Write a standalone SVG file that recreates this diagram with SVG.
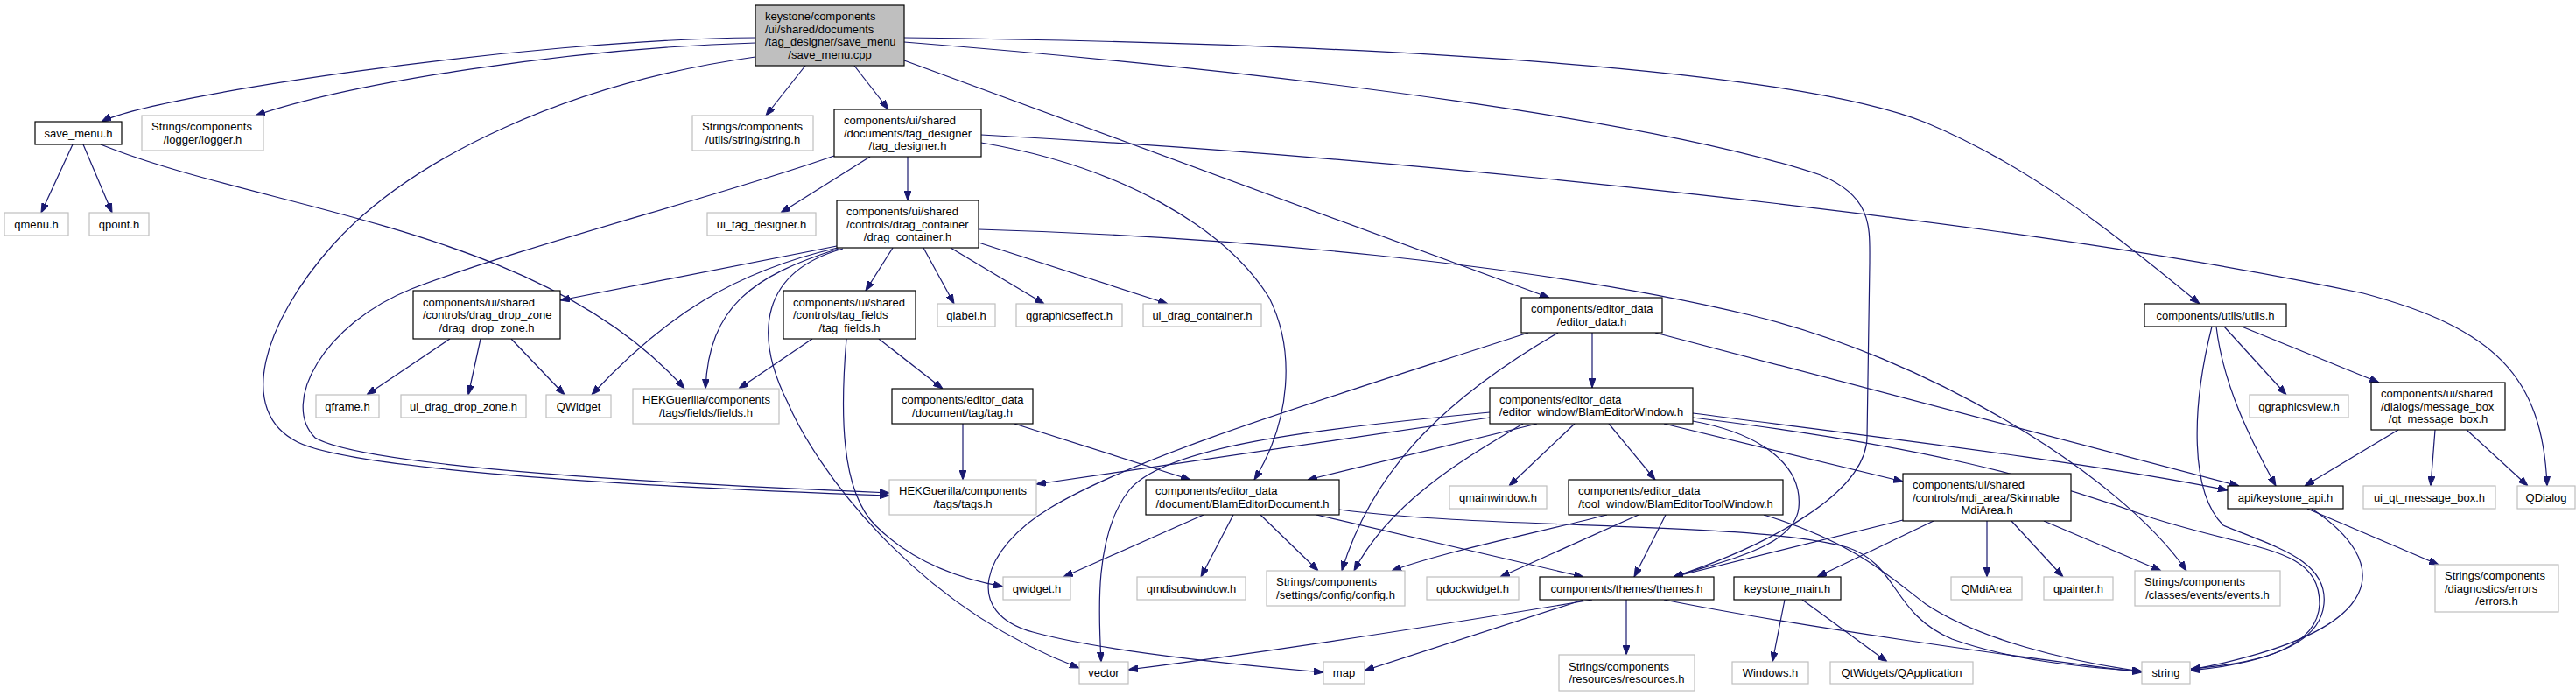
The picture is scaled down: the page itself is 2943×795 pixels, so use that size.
<svg xmlns="http://www.w3.org/2000/svg" width="2943" height="795" viewBox="0 0 2943 795">
<style>
.doc{fill:#fff;stroke:#000;stroke-width:1.2}
.ext{fill:#fff;stroke:#bfbfbf;stroke-width:1.2}
.main{fill:#bfbfbf;stroke:#000;stroke-width:1.2}
text{font-family:"Liberation Sans",Arial,sans-serif;font-size:13px;fill:#000}
.c{text-anchor:middle}
#edges path{fill:none;stroke:#191970;stroke-width:1.2;marker-end:url(#ah)}
</style>
<defs>
<marker id="ah" viewBox="0 0 11 8" refX="11" refY="4" markerWidth="11" markerHeight="8" markerUnits="userSpaceOnUse" orient="auto"><path d="M0,0L11,4L0,8z" fill="#191970" stroke="#191970" stroke-width="1"/></marker>
</defs>
<rect x="0" y="0" width="2943" height="795" fill="#fff"/>
<g id="edges">
<path d="M863,43 C600,45 170,110 116,139"/>
<path d="M863,49 C650,55 400,95 292,132"/>
<path d="M863,65 C650,95 470,180 380,280 C300,370 270,470 340,505 C400,535 700,555 1016,566"/>
<path d="M953,178 C820,225 600,280 470,330 C370,370 320,460 360,500 C410,530 700,550 1016,563"/>
<path d="M920,75 L875,132"/>
<path d="M976,75 L1015,125"/>
<path d="M1033,69 L1770,340"/>
<path d="M1033,43 C1600,50 2050,80 2200,140 C2320,190 2420,270 2513,347"/>
<path d="M1033,48 C1500,85 1900,140 2080,200 C2140,225 2136,260 2136,300 L2133,500 C2131,570 2000,630 1912,659"/>
<path d="M83,165 L47,243"/>
<path d="M95,165 L128,243"/>
<path d="M115,165 C300,240 620,260 782,444"/>
<path d="M994,179 L892,243"/>
<path d="M1037,179 L1037,229"/>
<path d="M1121,163 C1280,190 1400,260 1450,340 C1480,400 1475,480 1433,548"/>
<path d="M1121,154 C1600,180 2300,250 2700,335 C2850,375 2905,430 2910,555"/>
<path d="M956,281 L640,343"/>
<path d="M957,283 C840,310 760,360 676,451"/>
<path d="M958,284 C860,315 810,350 806,444"/>
<path d="M963,284 C870,310 860,380 900,460 C930,530 1040,690 1233,763"/>
<path d="M1020,283 L989,332"/>
<path d="M1055,283 L1090,347"/>
<path d="M1086,283 L1193,347"/>
<path d="M1118,277 L1334,347"/>
<path d="M1118,262 C1400,270 1750,300 2000,360 C2200,408 2420,540 2498,652"/>
<path d="M514,387 L419,451"/>
<path d="M549,387 L535,451"/>
<path d="M584,387 L645,451"/>
<path d="M928,387 L844,444"/>
<path d="M967,387 C960,470 960,560 1000,600 C1040,640 1090,660 1146,670"/>
<path d="M1004,387 L1077,444"/>
<path d="M1100,484 L1100,548"/>
<path d="M1159,484 L1360,548"/>
<path d="M1819,380 L1819,443"/>
<path d="M1891,380 L2558,555"/>
<path d="M1780,380 C1660,450 1570,530 1533,652"/>
<path d="M1746,380 C1500,460 1300,520 1200,580 C1120,628 1100,700 1180,722 C1260,744 1420,760 1512,768"/>
<path d="M1702,477 L1184,553"/>
<path d="M1756,484 L1494,548"/>
<path d="M1740,484 C1680,520 1590,570 1547,652"/>
<path d="M1799,484 L1724,555"/>
<path d="M1838,484 L1891,548"/>
<path d="M1901,484 L2174,550"/>
<path d="M1934,481 C2010,495 2060,530 2055,580 C2050,625 1970,640 1912,659"/>
<path d="M1934,472 C2150,500 2400,530 2545,560"/>
<path d="M1934,477 C2200,510 2330,545 2460,592 C2580,630 2650,625 2650,690 C2648,740 2580,758 2503,766"/>
<path d="M1702,471 C1500,490 1330,510 1290,560 C1250,610 1255,700 1258,756"/>
<path d="M2541,373 L2612,451"/>
<path d="M2561,373 L2718,437"/>
<path d="M2532,373 C2540,440 2570,500 2600,555"/>
<path d="M2527,373 C2505,460 2500,560 2540,600 C2600,625 2660,640 2655,690 C2650,740 2580,758 2503,764"/>
<path d="M2740,491 L2633,555"/>
<path d="M2782,491 L2777,555"/>
<path d="M2818,491 L2888,555"/>
<path d="M2636,581 L2786,645"/>
<path d="M2641,581 C2730,640 2740,720 2503,765"/>
<path d="M2174,594 L1912,659"/>
<path d="M2209,595 L2076,659"/>
<path d="M2270,595 L2270,659"/>
<path d="M2298,595 L2357,659"/>
<path d="M2335,595 L2469,652"/>
<path d="M1375,588 L1215,659"/>
<path d="M1409,588 L1372,659"/>
<path d="M1440,588 L1506,652"/>
<path d="M1504,588 L1809,659"/>
<path d="M1530,582 C1700,605 2000,595 2110,625 C2170,645 2160,700 2230,730 C2300,755 2380,762 2447,767"/>
<path d="M1836,588 C1750,610 1650,630 1590,652"/>
<path d="M1872,588 L1714,659"/>
<path d="M1903,588 L1867,659"/>
<path d="M2015,588 C2120,620 2160,660 2200,690 C2260,730 2360,755 2447,767"/>
<path d="M1819,685 C1700,705 1500,738 1289,765"/>
<path d="M1809,685 L1559,766"/>
<path d="M1858,685 L1858,748"/>
<path d="M1901,685 C2050,715 2300,750 2447,768"/>
<path d="M2039,685 L2025,756"/>
<path d="M2059,685 L2156,756"/>
</g>
<g id="n_main"><rect class="main" x="863" y="6" width="170" height="69"/><text><tspan x="874" y="23">keystone/components</tspan><tspan x="874" y="37.5">/ui/shared/documents</tspan><tspan x="874" y="52">/tag_designer/save_menu</tspan><tspan class="c" x="948" y="66.5">/save_menu.cpp</tspan></text></g>
<g id="n_save_menu"><rect class="doc" x="40" y="139" width="99" height="26"/><text class="c" x="89.5" y="156.5">save_menu.h</text></g>
<g id="n_logger"><rect class="ext" x="162" y="132" width="139" height="40"/><text><tspan x="173" y="149.25">Strings/components</tspan><tspan class="c" x="231.5" y="163.75">/logger/logger.h</tspan></text></g>
<g id="n_stringh"><rect class="ext" x="791" y="132" width="138" height="40"/><text><tspan x="802" y="149.25">Strings/components</tspan><tspan class="c" x="860" y="163.75">/utils/string/string.h</tspan></text></g>
<g id="n_tag_designer"><rect class="doc" x="953" y="125" width="168" height="54"/><text><tspan x="964" y="142">components/ui/shared</tspan><tspan x="964" y="156.5">/documents/tag_designer</tspan><tspan class="c" x="1037" y="171">/tag_designer.h</tspan></text></g>
<g id="n_qmenu"><rect class="ext" x="5" y="243" width="73" height="26"/><text class="c" x="41.5" y="260.5">qmenu.h</text></g>
<g id="n_qpoint"><rect class="ext" x="102" y="243" width="68" height="26"/><text class="c" x="136" y="260.5">qpoint.h</text></g>
<g id="n_ui_tag_designer"><rect class="ext" x="808" y="243" width="124" height="26"/><text class="c" x="870" y="260.5">ui_tag_designer.h</text></g>
<g id="n_drag_container"><rect class="doc" x="956" y="229" width="162" height="54"/><text><tspan x="967" y="246">components/ui/shared</tspan><tspan x="967" y="260.5">/controls/drag_container</tspan><tspan class="c" x="1037" y="275">/drag_container.h</tspan></text></g>
<g id="n_drag_drop_zone"><rect class="doc" x="472" y="332" width="168" height="55"/><text><tspan x="483" y="349.5">components/ui/shared</tspan><tspan x="483" y="364">/controls/drag_drop_zone</tspan><tspan class="c" x="556" y="378.5">/drag_drop_zone.h</tspan></text></g>
<g id="n_tag_fields"><rect class="doc" x="895" y="332" width="151" height="55"/><text><tspan x="906" y="349.5">components/ui/shared</tspan><tspan x="906" y="364">/controls/tag_fields</tspan><tspan class="c" x="970.5" y="378.5">/tag_fields.h</tspan></text></g>
<g id="n_qlabel"><rect class="ext" x="1071" y="347" width="66" height="26"/><text class="c" x="1104" y="364.5">qlabel.h</text></g>
<g id="n_qgraphicseffect"><rect class="ext" x="1161" y="347" width="121" height="26"/><text class="c" x="1221.5" y="364.5">qgraphicseffect.h</text></g>
<g id="n_ui_drag_container"><rect class="ext" x="1306" y="347" width="135" height="26"/><text class="c" x="1373.5" y="364.5">ui_drag_container.h</text></g>
<g id="n_editor_data"><rect class="doc" x="1738" y="340" width="161" height="40"/><text><tspan x="1749" y="357.25">components/editor_data</tspan><tspan class="c" x="1818.5" y="371.75">/editor_data.h</tspan></text></g>
<g id="n_utils"><rect class="doc" x="2450" y="347" width="162" height="26"/><text class="c" x="2531" y="364.5">components/utils/utils.h</text></g>
<g id="n_qframe"><rect class="ext" x="361" y="451" width="72" height="26"/><text class="c" x="397" y="468.5">qframe.h</text></g>
<g id="n_ui_drag_drop_zone"><rect class="ext" x="458" y="451" width="143" height="26"/><text class="c" x="529.5" y="468.5">ui_drag_drop_zone.h</text></g>
<g id="n_QWidget"><rect class="ext" x="624" y="451" width="74" height="26"/><text class="c" x="661" y="468.5">QWidget</text></g>
<g id="n_fields"><rect class="ext" x="723" y="444" width="167" height="40"/><text><tspan x="734" y="461.25">HEKGuerilla/components</tspan><tspan class="c" x="806.5" y="475.75">/tags/fields/fields.h</tspan></text></g>
<g id="n_tag"><rect class="doc" x="1019" y="444" width="161" height="40"/><text><tspan x="1030" y="461.25">components/editor_data</tspan><tspan class="c" x="1099.5" y="475.75">/document/tag/tag.h</tspan></text></g>
<g id="n_BlamEditorWindow"><rect class="doc" x="1702" y="443" width="232" height="41"/><text><tspan x="1713" y="460.75">components/editor_data</tspan><tspan class="c" x="1818" y="475.25">/editor_window/BlamEditorWindow.h</tspan></text></g>
<g id="n_qgraphicsview"><rect class="ext" x="2570" y="451" width="113" height="26"/><text class="c" x="2626.5" y="468.5">qgraphicsview.h</text></g>
<g id="n_qt_message_box"><rect class="doc" x="2709" y="437" width="153" height="54"/><text><tspan x="2720" y="454">components/ui/shared</tspan><tspan x="2720" y="468.5">/dialogs/message_box</tspan><tspan class="c" x="2785.5" y="483">/qt_message_box.h</tspan></text></g>
<g id="n_tags"><rect class="ext" x="1016" y="548" width="168" height="40"/><text><tspan x="1027" y="565.25">HEKGuerilla/components</tspan><tspan class="c" x="1100" y="579.75">/tags/tags.h</tspan></text></g>
<g id="n_BlamEditorDocument"><rect class="doc" x="1309" y="548" width="221" height="40"/><text><tspan x="1320" y="565.25">components/editor_data</tspan><tspan class="c" x="1419.5" y="579.75">/document/BlamEditorDocument.h</tspan></text></g>
<g id="n_qmainwindow"><rect class="ext" x="1656" y="555" width="111" height="26"/><text class="c" x="1711.5" y="572.5">qmainwindow.h</text></g>
<g id="n_BlamEditorToolWindow"><rect class="doc" x="1792" y="548" width="245" height="40"/><text><tspan x="1803" y="565.25">components/editor_data</tspan><tspan class="c" x="1914.5" y="579.75">/tool_window/BlamEditorToolWindow.h</tspan></text></g>
<g id="n_SkinnableMdiArea"><rect class="doc" x="2174" y="541" width="192" height="54"/><text><tspan x="2185" y="558">components/ui/shared</tspan><tspan x="2185" y="572.5">/controls/mdi_area/Skinnable</tspan><tspan class="c" x="2270" y="587">MdiArea.h</tspan></text></g>
<g id="n_keystone_api"><rect class="doc" x="2545" y="555" width="132" height="26"/><text class="c" x="2611" y="572.5">api/keystone_api.h</text></g>
<g id="n_ui_qt_message_box"><rect class="ext" x="2700" y="555" width="151" height="26"/><text class="c" x="2775.5" y="572.5">ui_qt_message_box.h</text></g>
<g id="n_QDialog"><rect class="ext" x="2876" y="555" width="66" height="26"/><text class="c" x="2909" y="572.5">QDialog</text></g>
<g id="n_qwidget"><rect class="ext" x="1146" y="659" width="77" height="26"/><text class="c" x="1184.5" y="676.5">qwidget.h</text></g>
<g id="n_qmdisubwindow"><rect class="ext" x="1299" y="659" width="124" height="26"/><text class="c" x="1361" y="676.5">qmdisubwindow.h</text></g>
<g id="n_config"><rect class="ext" x="1447" y="652" width="158" height="40"/><text><tspan x="1458" y="669.25">Strings/components</tspan><tspan class="c" x="1526" y="683.75">/settings/config/config.h</tspan></text></g>
<g id="n_qdockwidget"><rect class="ext" x="1630" y="659" width="105" height="26"/><text class="c" x="1682.5" y="676.5">qdockwidget.h</text></g>
<g id="n_themes"><rect class="doc" x="1759" y="659" width="199" height="26"/><text class="c" x="1858.5" y="676.5">components/themes/themes.h</text></g>
<g id="n_keystone_main"><rect class="doc" x="1981" y="659" width="122" height="26"/><text class="c" x="2042" y="676.5">keystone_main.h</text></g>
<g id="n_QMdiArea"><rect class="ext" x="2229" y="659" width="81" height="26"/><text class="c" x="2269.5" y="676.5">QMdiArea</text></g>
<g id="n_qpainter"><rect class="ext" x="2335" y="659" width="79" height="26"/><text class="c" x="2374.5" y="676.5">qpainter.h</text></g>
<g id="n_events"><rect class="ext" x="2439" y="652" width="166" height="40"/><text><tspan x="2450" y="669.25">Strings/components</tspan><tspan class="c" x="2522" y="683.75">/classes/events/events.h</tspan></text></g>
<g id="n_errors"><rect class="ext" x="2782" y="645" width="141" height="54"/><text><tspan x="2793" y="662">Strings/components</tspan><tspan x="2793" y="676.5">/diagnostics/errors</tspan><tspan class="c" x="2852.5" y="691">/errors.h</tspan></text></g>
<g id="n_vector"><rect class="ext" x="1233" y="756" width="56" height="25"/><text class="c" x="1261" y="773">vector</text></g>
<g id="n_map"><rect class="ext" x="1512" y="756" width="47" height="25"/><text class="c" x="1535.5" y="773">map</text></g>
<g id="n_resources"><rect class="ext" x="1781" y="748" width="155" height="41"/><text><tspan x="1792" y="765.75">Strings/components</tspan><tspan class="c" x="1858.5" y="780.25">/resources/resources.h</tspan></text></g>
<g id="n_Windows"><rect class="ext" x="1979" y="756" width="87" height="25"/><text class="c" x="2022.5" y="773">Windows.h</text></g>
<g id="n_QApplication"><rect class="ext" x="2091" y="756" width="163" height="25"/><text class="c" x="2172.5" y="773">QtWidgets/QApplication</text></g>
<g id="n_string"><rect class="ext" x="2447" y="756" width="55" height="25"/><text class="c" x="2474.5" y="773">string</text></g>
</svg>
